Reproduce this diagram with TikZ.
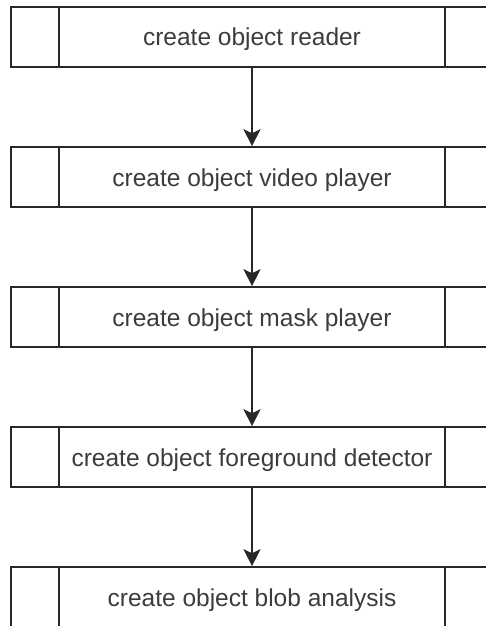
\documentclass[tikz,border=0pt]{standalone}
\usepackage{fontspec}
\setmainfont{Liberation Sans}
\usetikzlibrary{arrows.meta}
\definecolor{edgegray}{RGB}{40,40,40}
\definecolor{textgray}{RGB}{60,60,60}
\tikzset{
  proc/.style={draw=edgegray, line width=1.6pt, rectangle,
    minimum width=482pt, minimum height=60pt, inner sep=0pt,
    text height=20.5pt, text depth=2.5pt,
    text=textgray, font=\fontsize{24.5pt}{28pt}\selectfont},
  divider/.style={draw=edgegray, line width=1.6pt},
  conn/.style={draw=edgegray, line width=1.6pt,
    -{Stealth[length=17pt,width=17pt,inset=4pt]}}
}
\begin{document}
\begin{tikzpicture}[x=1pt,y=-1pt]
  \useasboundingbox (0,0) rectangle (486,626);
  \clip (0,0) rectangle (486,626);

  % predefined-process boxes
  \node[proc] (r1) at (252,37)  {create object reader};
  \node[proc] (r2) at (252,177) {create object video player};
  \node[proc] (r3) at (252,317) {create object mask player};
  \node[proc] (r4) at (252,457) {create object foreground detector};
  \node[proc] (r5) at (252,597) {create object blob analysis};

  % side bars of each box
  \foreach \n in {r1,r2,r3,r4,r5} {
    \draw[divider] ([xshift=49pt]\n.north west) -- ([xshift=49pt]\n.south west);
    \draw[divider] ([xshift=-49pt]\n.north east) -- ([xshift=-49pt]\n.south east);
  }

  % flow
  \draw[conn] (r1) -- (r2);
  \draw[conn] (r2) -- (r3);
  \draw[conn] (r3) -- (r4);
  \draw[conn] (r4) -- (r5);
\end{tikzpicture}
\end{document}
